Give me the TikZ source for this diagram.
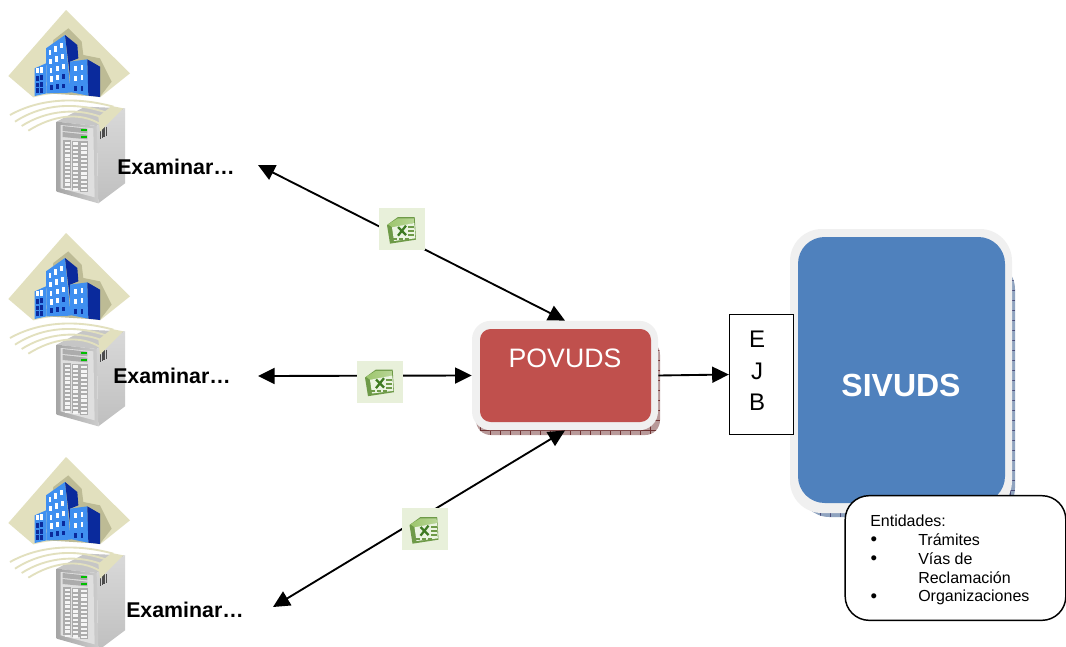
\documentclass[tikz,border=0pt]{standalone}
\usepackage{fontspec}
\setmainfont{Liberation Sans}
\usetikzlibrary{arrows.meta}
\definecolor{beige}{HTML}{E2E0BE}
\definecolor{beigedk}{HTML}{BDBB95}
\definecolor{bluefr}{HTML}{3F8FF0}
\definecolor{bluedk}{HTML}{0A2A9C}
\definecolor{shell}{HTML}{F0F0F0}
\definecolor{povred}{HTML}{C0504D}
\definecolor{sivblue}{HTML}{4F81BD}
\definecolor{xlbg}{HTML}{E8F0DA}
\definecolor{xlbody}{HTML}{9CC56C}
\definecolor{xldark}{HTML}{6E9A48}
\definecolor{xlx}{HTML}{3E7A22}
\tikzset{
  lnk/.style={line width=1.4pt,-{Triangle[length=12.5pt,width=12pt]}},
  dbl/.style={line width=1.4pt,{Triangle[length=12.5pt,width=12pt]}-{Triangle[length=12.5pt,width=12pt]}},
  exam/.style={font=\fontsize{16}{16}\selectfont\bfseries,anchor=west,inner sep=0pt},
  small/.style={font=\fontsize{12}{12}\selectfont,anchor=west,inner sep=0pt},
  bul/.style={font=\fontsize{14}{14}\selectfont,inner sep=0pt},
  wn/.style={fill=white,draw=none},
  pics/site/.style={code={
    \begin{scope}[x=.25pt,y=-.25pt]
      % diamond
      \fill[beige] (198,30) -- (390,220) -- (300,292) .. controls (240,275) and (170,275) .. (100,292) -- (25,228) -- cycle;
      \fill[beigedk] (160,120) -- (205,85) -- (245,125) -- (250,165) -- (300,175) -- (335,245) -- (300,290) -- (140,280) -- cycle;
      % buildings
      \fill[bluefr] (104,205) -- (138,190) -- (140,280) -- (104,288) -- cycle;
      \fill[bluefr] (138,145) -- (195,105) -- (212,278) -- (140,280) -- cycle;
      \fill[bluedk] (195,105) -- (232,135) -- (235,175) -- (210,185) -- (210,230) -- cycle;
      \fill[bluefr] (210,185) -- (262,178) -- (265,287) -- (210,276) -- cycle;
      \fill[bluedk] (262,178) -- (300,200) -- (300,291) -- (265,287) -- cycle;
      \foreach \a/\b in {150/157,167/147,185/137,152/185,170/177,188/170,153/212,172/205,190/200,155/237,172/233,226/205,246/203,226/236,246/233,112/212,125/210}
        \fill[wn] (\a-4,\b-8) rectangle (\a+4,\b+8);
      \foreach \a/\b in {190/230,155/262,172/260,190/258,226/265,246/265,113/235,125/232,113/255,125/253,113/272,125/272}
        \fill[bluedk] (\a-4,\b-7) rectangle (\a+4,\b+7);
      % server
      \fill[gray!45] (170,365) -- (255,320) -- (375,325) -- (290,378) -- cycle;
      \shade[top color=gray!30,bottom color=gray!50] (290,378) -- (375,325) -- (375,550) -- (295,610) -- cycle;
      \shade[left color=gray!70,right color=gray!40] (170,365) -- (290,378) -- (295,610) -- (170,575) -- cycle;
      \fill[gray!25] (182,375) -- (280,385) -- (284,592) -- (182,565) -- cycle;
      \fill[gray!65] (188,378) -- (262,386) -- (262,400) -- (188,393) -- cycle;
      \fill[gray!65] (188,396) -- (262,404) -- (262,418) -- (188,411) -- cycle;
      \fill[green!75!black] (244,387) rectangle (260,393);
      \fill[green!75!black] (244,409) rectangle (260,415);
      \foreach \c in {0,1,2}
        \fill[gray!65] ({190+\c*25},{420+\c*2}) rectangle ++(24,{145+\c*3});
      \foreach \r in {0,1,...,11}
        \foreach \c in {0,1,2}
          \fill[gray!8] ({194+\c*25},{425+\r*12.5+\c*2}) rectangle ++(16,7);
      \foreach \k in {0,1,2,3,4}
        \draw[gray!60!black,line width=.5pt] ({302+\k*4},{388-\k*2}) -- ++(0,28);
      % waves
      \fill[beige] (335,318) -- (370,325) -- (300,395) -- (295,350) -- cycle;
      \draw[beige,line width=1.4pt] (30,345) .. controls (120,295) and (230,290) .. (340,320);
      \draw[beige,line width=1.4pt] (45,365) .. controls (130,310) and (230,305) .. (325,340);
      \draw[beige,line width=1.4pt] (65,378) .. controls (140,330) and (240,320) .. (320,358);
      \draw[beige,line width=1.4pt] (85,392) .. controls (160,345) and (240,335) .. (300,372);
    \end{scope}
  }},
  pics/xlicon/.style={code={
    \begin{scope}[x=.25pt,y=-.25pt]
      \fill[xlbg] (-69,-63) rectangle (69,63);
      \fill[xldark] (-45,-12) -- (-12,-36) -- (38,-36) -- (42,32) -- (-36,44) -- cycle;
      \shade[left color=xlbody,right color=xlbody!70!white] (-42,-14) -- (-12,-32) -- (36,-32) -- (38,-18) -- (-28,-4) -- cycle;
      \fill[white!80!xlbody] (-30,-5) -- (37,-18) -- (40,28) -- (-24,36) -- cycle;
      \draw[xlx,line width=1.7pt] (-12,-6) -- (12,18);
      \draw[xlx,line width=1.7pt] (12,-10) -- (-12,20);
      \foreach \b in {0,12,24}
        \fill[xldark] (18,{-8+\b}) rectangle (36,{-2+\b});
      \foreach \b in {-26,-8,10}
        \fill[xldark] (\b,26) rectangle ++(12,6);
    \end{scope}
  }}
}
\begin{document}
\begin{tikzpicture}[x=.75pt,y=-.75pt]
\useasboundingbox (0,0) rectangle (1066,646);
\fill[white] (0,0) rectangle (1066,646);
\clip (0,0) rectangle (1066,646);

\pic at (0,0) {site};
\pic at (0,223) {site};
\pic at (0,447) {site};

% POVUDS shadow
\fill[rounded corners=11pt,fill=red!30!black!40!white] (476,340) rectangle (660,435);
\begin{scope}
  \clip[rounded corners=11pt] (476,340) rectangle (660,435);
  \foreach \v in {480,490,...,660} \draw[red!30!black!80,line width=.3pt] (\v,340) -- (\v,435);
  \foreach \v in {350,360,...,430} \draw[red!30!black!80,line width=.3pt] (476,\v) -- (660,\v);
\end{scope}
\node[fill=shell,rounded corners=14pt,minimum width=139.5pt,minimum height=82pt,inner sep=0pt] (povuds) at (565,375.5) {};
\fill[povred,rounded corners=8pt] (480,329) rectangle (651,422);
\node[font=\fontsize{20}{20}\selectfont,text=white,inner sep=0pt] (povlabel) at (565,358) {POVUDS};

% SIVUDS shadow
\definecolor{sivshadow}{HTML}{8FA3BF}
\fill[rounded corners=22pt,fill=sivshadow] (800,260) rectangle (1015,517);
\begin{scope}
  \clip[rounded corners=22pt] (800,260) rectangle (1015,517);
  \foreach \v in {270,280,...,510} \draw[blue!25!black!70,line width=.3pt] (800,\v) -- (1015,\v);
  \foreach \v in {810,820,...,1010} \draw[blue!25!black!70,line width=.3pt] (\v,260) -- (\v,517);
\end{scope}
\node[fill=shell,rounded corners=24pt,minimum width=166.5pt,minimum height=213pt,inner sep=0pt] (sivuds) at (901,371) {};
\fill[sivblue,rounded corners=20pt] (798,237) rectangle (1005,503);
\node[font=\fontsize{24}{24}\selectfont\bfseries,text=white,inner sep=0pt] (sivlabel) at (901,385) {SIVUDS};

% EJB
\node[draw=black,fill=white,line width=1pt,minimum width=48pt,minimum height=90pt,inner sep=0pt] (ejb) at (761.5,374.5) {};
\node[font=\fontsize{18}{18}\selectfont,inner sep=0pt] (ejbE) at (757,339) {E};
\node[font=\fontsize{18}{18}\selectfont,inner sep=0pt] (ejbJ) at (757,371) {J};
\node[font=\fontsize{18}{18}\selectfont,inner sep=0pt] (ejbB) at (757,402) {B};

% free ends
\coordinate (c1) at (258,165);
\coordinate (c2) at (258,376);
\coordinate (c3) at (273,607);

% connectors
\draw[dbl] (c1) -- (povuds.north);
\draw[dbl] (c2) -- (povuds.west);
\draw[dbl] (c3) -- (povuds.south);
\draw[lnk] (povuds.east) -- (ejb.west);

\pic at (402,229) {xlicon};
\pic at (380,381.5) {xlicon};
\pic at (424.5,529) {xlicon};

\node[exam] (ex1) at (117,167) {Examinar…};
\node[exam] (ex2) at (113,376) {Examinar…};
\node[exam] (ex3) at (126,610) {Examinar…};

% callout
\node[draw=black,fill=white,line width=1.1pt,rounded corners=18pt,minimum width=165.5pt,minimum height=93.5pt,inner sep=0pt] (ent) at (955.5,558) {};
\node[small] (t0) at (870,520.5) {Entidades:};
\node[bul] (b1) at (874,541) {•};
\node[small] (t1) at (918,540) {Trámites};
\node[bul] (b2) at (874,560) {•};
\node[small] (t2) at (918,559) {Vías de};
\node[small] (t3) at (918,578) {Reclamación};
\node[bul] (b3) at (874,598) {•};
\node[small] (t4) at (918,597) {Organizaciones};
\end{tikzpicture}
\end{document}
